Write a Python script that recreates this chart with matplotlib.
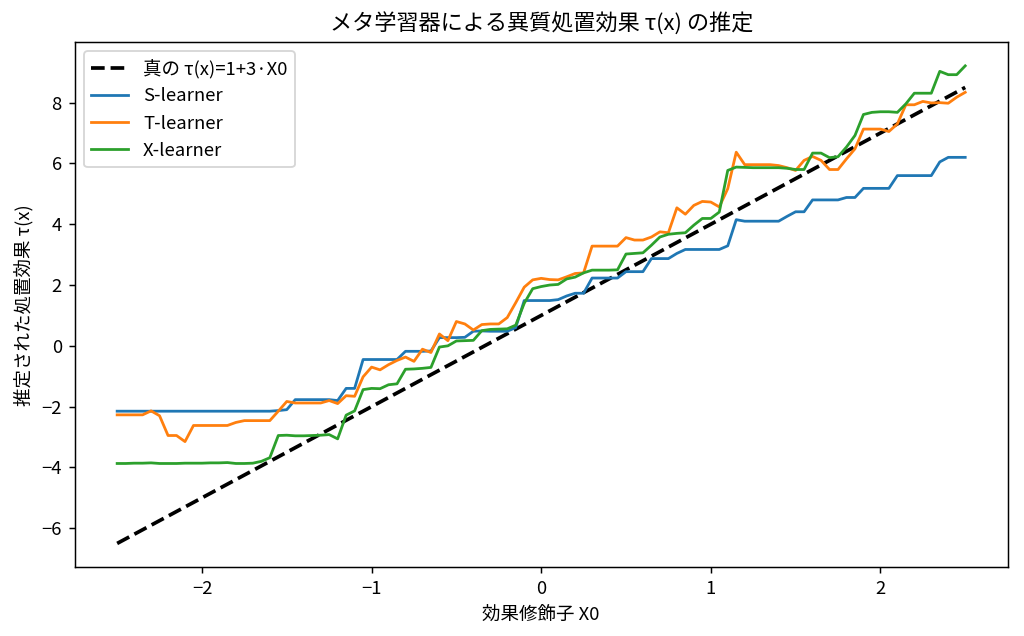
import matplotlib
matplotlib.use("Agg")
import matplotlib.pyplot as plt
import numpy as np

plt.rcParams['font.family'] = ['Noto Sans CJK JP', 'DejaVu Sans']
plt.rcParams['axes.unicode_minus'] = True

# effect modifier grid
x0 = np.linspace(-2.5, 2.5, 101)

# true effect end points
true_x = [-2.5, 2.5]
true_tau = [-6.5, 8.5]

s_learner = [
    -2.15, -2.15, -2.15, -2.15, -2.15, -2.15, -2.15, -2.15, -2.15, -2.15,
    -2.15, -2.15, -2.15, -2.15, -2.15, -2.15, -2.15, -2.15, -2.15, -2.13,
    -2.10, -1.77, -1.77, -1.77, -1.77, -1.77, -1.80, -1.40, -1.40, -0.45,
    -0.45, -0.45, -0.45, -0.45, -0.18, -0.18, -0.18, -0.17, 0.27, 0.27,
    0.27, 0.28, 0.48, 0.49, 0.48, 0.48, 0.48, 0.60, 1.49, 1.49,
    1.49, 1.49, 1.52, 1.64, 1.73, 1.73, 2.23, 2.23, 2.23, 2.23,
    2.44, 2.44, 2.44, 2.87, 2.87, 2.87, 3.04, 3.17, 3.17, 3.17,
    3.17, 3.17, 3.29, 4.15, 4.10, 4.10, 4.10, 4.10, 4.10, 4.26,
    4.41, 4.41, 4.80, 4.80, 4.80, 4.80, 4.88, 4.88, 5.18, 5.18,
    5.18, 5.18, 5.60, 5.60, 5.60, 5.60, 5.60, 6.05, 6.20, 6.20,
    6.20,
]

t_learner = [
    -2.27, -2.27, -2.27, -2.27, -2.14, -2.30, -2.95, -2.95, -3.15, -2.62,
    -2.62, -2.62, -2.62, -2.62, -2.52, -2.46, -2.46, -2.46, -2.46, -2.15,
    -1.83, -1.88, -1.88, -1.88, -1.88, -1.80, -1.90, -1.64, -1.66, -1.02,
    -0.70, -0.79, -0.62, -0.48, -0.37, -0.51, -0.11, -0.22, 0.39, 0.17,
    0.80, 0.72, 0.52, 0.70, 0.72, 0.72, 0.93, 1.42, 1.93, 2.17,
    2.22, 2.18, 2.17, 2.27, 2.38, 2.40, 3.28, 3.28, 3.28, 3.28,
    3.56, 3.48, 3.48, 3.58, 3.75, 3.72, 4.54, 4.33, 4.62, 4.75,
    4.73, 4.57, 5.17, 6.37, 5.96, 5.96, 5.96, 5.96, 5.93, 5.86,
    5.77, 6.10, 6.23, 6.10, 5.80, 5.80, 6.15, 6.48, 7.13, 7.13,
    7.13, 7.05, 7.30, 7.93, 7.93, 8.04, 7.99, 8.00, 7.98, 8.18,
    8.34,
]

x_learner = [
    -3.87, -3.87, -3.86, -3.86, -3.85, -3.87, -3.87, -3.87, -3.86, -3.86,
    -3.86, -3.85, -3.85, -3.84, -3.87, -3.87, -3.86, -3.80, -3.68, -2.95,
    -2.94, -2.96, -2.96, -2.95, -2.94, -2.92, -3.06, -2.28, -2.14, -1.44,
    -1.40, -1.41, -1.28, -1.25, -0.77, -0.76, -0.74, -0.71, -0.04, 0.00,
    0.16, 0.17, 0.18, 0.50, 0.54, 0.55, 0.56, 0.68, 1.40, 1.88,
    1.95, 2.00, 2.02, 2.20, 2.26, 2.40, 2.49, 2.49, 2.49, 2.50,
    3.02, 3.04, 3.06, 3.31, 3.58, 3.67, 3.70, 3.72, 3.97, 4.19,
    4.19, 4.40, 5.77, 5.88, 5.87, 5.86, 5.86, 5.86, 5.86, 5.84,
    5.80, 5.80, 6.34, 6.34, 6.19, 6.22, 6.54, 6.92, 7.61, 7.68,
    7.70, 7.70, 7.68, 7.96, 8.31, 8.31, 8.31, 9.03, 8.92, 8.92,
    9.21,
]

dpi = 133
fig, ax = plt.subplots(figsize=(1024 / dpi, 636 / dpi), dpi=dpi)
fig.subplots_adjust(left=0.073, right=0.984, top=0.934, bottom=0.108)

ax.plot(true_x, true_tau, "k--", linewidth=2, label="真の τ(x)=1+3·X0")
ax.plot(x0, s_learner, label="S-learner")
ax.plot(x0, t_learner, label="T-learner")
ax.plot(x0, x_learner, label="X-learner")

ax.set_title("メタ学習器による異質処置効果 τ(x) の推定")
ax.set_xlabel("効果修飾子 X0")
ax.set_ylabel("推定された処置効果 τ(x)")
ax.legend(loc="upper left")

fig.savefig("out.png", dpi=dpi)
